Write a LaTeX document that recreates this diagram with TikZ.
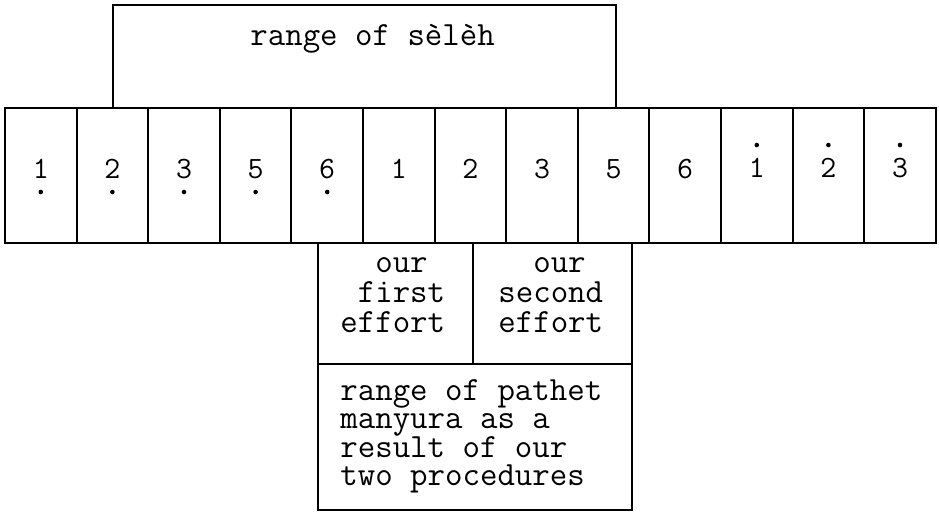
\documentclass[tikz,border=0pt]{standalone}
\usepackage{fontspec}
\newcommand{\linesat}[2]{\vtop{\baselineskip=#1\lineskiplimit=-20pt\lineskip=0pt#2}}
\begin{document}
\begin{tikzpicture}[x=0.5pt,y=-0.5pt,
  box/.style={draw, line width=1pt, rectangle, inner sep=0pt, outer sep=0pt},
  cell/.style={box, minimum width=35.8pt, minimum height=67.5pt},
  txt/.style={font=\ttfamily\fontsize{16.95}{16.95}\selectfont, inner sep=0pt, anchor=base west},
  digit/.style={font=\ttfamily\fontsize{15.5}{15.5}\selectfont, inner sep=0pt, anchor=base},
  octdot/.style={circle, fill, inner sep=0pt, minimum size=2.3pt}]
\useasboundingbox (0,0) rectangle (939,511);
% top box
\node[box, minimum width=251.5pt, minimum height=51.5pt] (seleh) at (364.5,56.5) {};
\node[txt] (selehtxt) at (250,45) {range of sèlèh};
% row of cells
\foreach \i/\d/\oct in {0/1/l,1/2/l,2/3/l,3/5/l,4/6/l,5/1/m,6/2/m,7/3/m,8/5/m,9/6/m,10/1/h,11/2/h,12/3/h}{
  \pgfmathsetmacro{\cx}{5+71.6*(\i+0.5)}
  \node[cell] (c\i) at (\cx,175.5) {};
  \if\oct l
    \node[digit] (d\i) at (\cx,178) {\d};
    \node[octdot] (o\i) at (\cx,192) {};
  \fi
  \if\oct m
    \node[digit] (d\i) at (\cx,178) {\d};
  \fi
  \if\oct h
    \node[digit] (d\i) at (\cx,177) {\d};
    \node[octdot] (o\i) at (\cx,145) {};
  \fi
}
% effort boxes
\node[box, minimum width=77.5pt, minimum height=60.5pt] (first) at (395.5,303.5) {};
\node[box, minimum width=79.5pt, minimum height=60.5pt] (second) at (552.5,303.5) {};
\node[txt] (firsttxt) at (340,272) {\linesat{15pt}{\hbox{\phantom{xx}our}\hbox{\phantom{x}first}\hbox{effort}}};
\node[txt] (secondtxt) at (498,272) {\linesat{15pt}{\hbox{\phantom{xx}our}\hbox{second}\hbox{effort}}};
% result box
\node[box, minimum width=157pt, minimum height=73pt] (result) at (475,437) {};
\node[txt] (resulttxt) at (340,400) {\linesat{14.25pt}{\hbox{range of pathet}\hbox{manyura as a}\hbox{result of our}\hbox{two procedures}}};
\end{tikzpicture}
\end{document}
